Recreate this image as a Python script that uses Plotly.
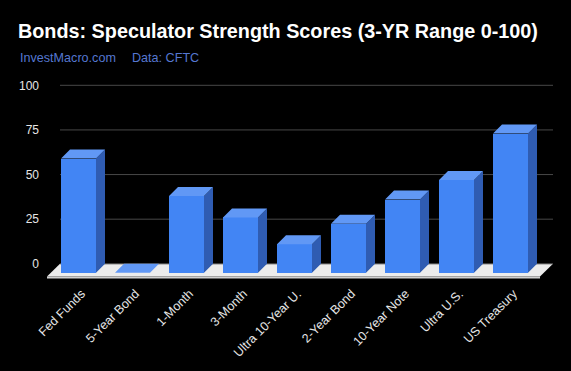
import plotly.graph_objects as go

# ---------------- data ----------------
categories = ["Fed Funds", "5-Year Bond", "1-Month", "3-Month", "Ultra 10-Year U.",
              "2-Year Bond", "10-Year Note", "Ultra U.S.", "US Treasury"]
scores = [64, 0, 43, 31, 16, 27.5, 41, 52, 78]
y_ticks = [0, 25, 50, 75, 100]

# ---------------- style / geometry ----------------
W, H = 571, 371
ML, MR, MT, MB = 40, 11, 80, 88
PX_PER_CAT = 54.0          # pixels per category
PX_PER_UNIT = 1.785        # pixels per score unit
FIRST_CENTER_PX = 78.5
ZERO_PX = 263.8
XMIN = -(FIRST_CENTER_PX - ML) / PX_PER_CAT
XMAX = XMIN + (W - ML - MR) / PX_PER_CAT
YMAX = (ZERO_PX - MT) / PX_PER_UNIT
YMIN = (ZERO_PX - (H - MB)) / PX_PER_UNIT

BAR_W = 35 / PX_PER_CAT
DX = 9 / PX_PER_CAT        # depth offset (x, data units)
DY = 9 / PX_PER_UNIT       # depth offset (y, data units)
LABEL_SHIFT = 3 / PX_PER_CAT

FRONT = "#4285f4"
TOP = "#6198f5"
ZERO_TOP = "#6a9ef6"
SIDE = "#2f5cb2"
FLOOR_TOP = "#ececec"
FLOOR_FRONT = "#d0d0d0"
GRID = "#484848"
FONT = "Liberation Sans, Arial, sans-serif"

xs = list(range(len(categories)))

fig = go.Figure()

# top faces and side faces derived from the data
top_x, top_y, side_x, side_y = [], [], [], []
for x, v in zip(xs, scores):
    x0, x1 = x - BAR_W / 2, x + BAR_W / 2
    yf = v - DY
    top_x += [x0, x1, x1 + DX, x0 + DX, x0, None]
    top_y += [yf, yf, v, v, yf, None]
    if v > 0:
        side_x += [x1, x1 + DX, x1 + DX, x1, x1, None]
        side_y += [-DY, 0, v, yf, -DY, None]

fig.add_trace(go.Bar(x=xs, y=scores, base=[-DY] * len(scores), width=BAR_W,
                     marker=dict(color=FRONT, line=dict(width=0)),
                     hoverinfo="skip", showlegend=False))
fig.add_trace(go.Scatter(x=side_x, y=side_y, mode="lines", fill="toself",
                         fillcolor=SIDE, line=dict(width=0, color=SIDE),
                         hoverinfo="skip", showlegend=False))
fig.add_trace(go.Scatter(x=top_x, y=top_y, mode="lines", fill="toself",
                         fillcolor=TOP, line=dict(width=0, color=TOP),
                         hoverinfo="skip", showlegend=False))

# floor (decoration)
fb_l = XMIN + (60 - ML) / PX_PER_CAT
fb_r = XMIN + (553 - ML) / PX_PER_CAT
f_dx = 13 / PX_PER_CAT
f_front = -(276.5 - ZERO_PX) / PX_PER_UNIT
f_bottom = -(278.5 - ZERO_PX) / PX_PER_UNIT
shapes = [
    dict(type="path", xref="x", yref="y", layer="below",
         path=f"M {fb_l} 0 L {fb_r} 0 L {fb_r - f_dx} {f_front} L {fb_l - f_dx} {f_front} Z",
         fillcolor=FLOOR_TOP, line=dict(width=0)),
    dict(type="path", xref="x", yref="y", layer="below",
         path=f"M {fb_l - f_dx} {f_front} L {fb_r - f_dx} {f_front} L {fb_r - f_dx} {f_bottom} L {fb_l - f_dx} {f_bottom} Z",
         fillcolor=FLOOR_FRONT, line=dict(width=0)),
]
for t in y_ticks:
    shapes.append(dict(type="line", xref="x", yref="y", layer="below",
                       x0=fb_l, x1=fb_r, y0=t, y1=t,
                       line=dict(color=GRID, width=1)))

fig.update_layout(
    template="none",
    width=W, height=H, autosize=False,
    margin=dict(l=ML, r=MR, t=MT, b=MB, pad=0, autoexpand=False),
    paper_bgcolor="black", plot_bgcolor="black",
    font=dict(family=FONT, color="#e6e6e6", size=12),
    bargap=0,
    title=dict(text="<b>Bonds: Speculator Strength Scores (3-YR Range 0-100)</b>",
               xref="container", yref="container", x=18 / W, xanchor="left",
               y=1 - 31 / H, yanchor="middle",
               font=dict(family=FONT, size=19.8, color="white")),
    annotations=[
        dict(text="InvestMacro.com", xref="paper", yref="paper",
             x=(18 - ML) / (W - ML - MR), y=((H - MB) - 58) / (H - MT - MB),
             xanchor="left", yanchor="middle", showarrow=False,
             font=dict(family=FONT, size=12.6, color="#5577d0")),
        dict(text="Data: CFTC", xref="paper", yref="paper",
             x=(130 - ML) / (W - ML - MR), y=((H - MB) - 58) / (H - MT - MB),
             xanchor="left", yanchor="middle", showarrow=False,
             font=dict(family=FONT, size=12.6, color="#5577d0")),
    ],
    shapes=shapes,
    xaxis=dict(range=[XMIN, XMAX], tickmode="array",
               tickvals=[x + LABEL_SHIFT for x in xs], ticktext=categories,
               automargin=False,
               tickangle=-45, showgrid=False, zeroline=False, showline=False,
               ticks="", fixedrange=True, tickfont=dict(size=12.5, color="#e6e6e6")),
    yaxis=dict(range=[YMIN, YMAX], tickmode="array", tickvals=y_ticks,
               ticktext=[str(t) for t in y_ticks], showgrid=False, automargin=False,
               zeroline=False, showline=False, ticks="", fixedrange=True,
               tickfont=dict(size=12, color="#e6e6e6")),
)

fig.write_html("out.html", config={"displayModeBar": False},
               post_script="document.body.style.margin='0';")
